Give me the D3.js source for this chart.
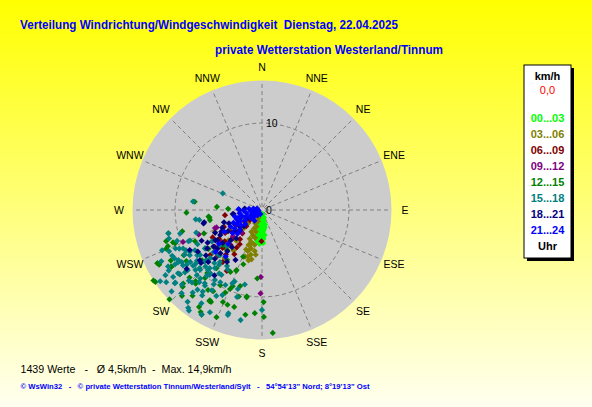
<!DOCTYPE html>
<html>
<head>
<meta charset="utf-8">
<script src="https://cdn.jsdelivr.net/npm/d3@7"></script>
<style>
  html, body { margin: 0; padding: 0; background: #fff; }
  svg { display: block; }
  text { font-family: Arial, "Liberation Sans", sans-serif; }
</style>
</head>
<body>
<div id="chart"></div>
<script>
// Windrichtung (Grad) und Geschwindigkeit (km/h), pro 3-Stunden-Block
const maxSpeed = 14.9;
const ringTicks = [0, 10];
const dirLabels = ["N","NNE","NE","ENE","E","ESE","SE","SSE","S","SSW","SW","WSW","W","WNW","NW","NNW"];
const hourLabels = ["00...03","03...06","06...09","09...12","12...15","15...18","18...21","21...24"];
const hourColors = ["#00ff00","#808000","#800000","#800080","#008000","#008080","#000080","#0000ff"];

const h00_03 = [[182,0.4],[170,0.5],[195,0.6],[175,0.7],[188,0.8],[165,0.9],[178,1.0],[192,1.1],[185,1.2],[172,1.3],
  [190,1.5],[180,1.6],[168,1.7],[176,1.8],[186,1.9],[182,2.1],[174,2.2],[188,2.3],[180,2.5],[184,2.6],
  [177,2.7],[190,2.8],[182,2.9],[186,3.0],[179,3.1],[188,3.2],[183,3.3],[187,3.4],[185,3.5],[181,3.6],
  [189,3.6],[178,2.0],[184,1.4],[192,3.3],[176,2.4],[191,2.0],[173,1.1],[186,2.7],[180,3.4],[187,1.7],
  [178,3.8],[184,3.9],[174,2.9],[193,2.5],[171,2.0],[177,3.3]];
const h03_06 = [[205,1.0],[200,1.4],[208,1.7],[198,2.0],[203,2.3],[196,2.6],[206,2.8],[200,3.1],[194,3.3],[203,3.6],
  [198,3.9],[192,4.1],[201,4.3],[196,4.6],[190,4.8],[199,5.0],[194,5.3],[197,5.6],[192,5.8],[200,5.7],
  [188,5.2],[195,6.0],[202,4.9],[197,4.0],
  [225,3.0],[232,3.8],[220,4.6],[228,5.2],[235,5.9],[222,6.1],[230,6.6],[218,7.0],[226,2.2],[238,4.4],
  [215,5.7],[245,6.0]];
const h06_09 = [[230,1.8],[236,2.4],[224,2.6],[232,3.1],[240,3.4],[220,3.5],[228,3.9],[234,4.3],[217,4.2],[226,4.8],
  [238,5.0],[222,5.4],[230,5.6],[214,5.2],[236,6.0],[226,6.3],[219,6.6],[232,6.9],[224,7.3],[229,7.9],
  [217,7.5],[212,6.0],[262,4.3],[181,3.6],[210,8.1],[213,4.7],[246,4.8],[241,6.5]];
const h09_12 = [[181,7.7],[181,9.6],[249,5.8],[249,7.8],[248,9.8],[249,5.6],[228,4.5],[232,6.0],[222,3.5]];
const h12_15 = [[175,14.2],[226,14.8],[237,14.9],[243,13.5],[203,13.4],[213,13.3],[189,12.2],[200,11.6],[179,10.6],[190,10.2],
  [184,7.9],[268,8.7],[274,5.2],[263,6.2],[252,11.6],[209,12.1],[223,13.5],[226,12.7],[214,11.1],[220,10.2],
  [203,7.6],[202,5.8],[272,3.9],[242,13.4],[238,12.3],[219,12.7],[210,13.9],[227,11.4],[223,11.2],[240,10.4],
  [209,9.9],[203,11.5],[196,9.1],[199,6.6],[201,9.4],[204,10.4],[210,12.1],[211,10.9],[250,10.9],[249,11.6],
  [259,6.1],[230,9.0],[236,10.5],[245,8.5],[218,8.5],[232,12.0],[241,12.0],[215,7.0],[248,7.2],[228,6.0],
  [255,9.5],[207,8.0],[234,7.6],[221,9.6],
  [277,7.8],[262,6.1],[256,11.1],[249,10.7],[248,11.9],[243,13.5],[236,14.8],[238,12.3],[227,12.4],[222,11.4],
  [210,12.0],[195,10.3],[190,10.1],[202,9.8],[203,7.5],[221,6.1],[211,13.7],[179,12.3],[196,11.6],[184,11.9]];
const h15_18 = [[293,4.9],[277,8.0],[256,11.1],[237,12.8],[235,14.3],[217,14.1],[210,13.9],[198,12.7],[180,11.5],[197,9.5],
  [201,8.8],[262,7.7],[261,7.3],[254,9.8],[245,10.5],[233,13.8],[238,11.8],[233,12.8],[230,13.1],[216,14.3],
  [239,11.2],[238,9.8],[231,9.8],[220,9.9],[213,10.2],[198,12.5],[196,10.4],[193,8.8],[191,12.9],[216,11.6],
  [207,13.2],[202,9.1],[222,9.0],[222,8.2],[228,8.6],[235,9.1],[240,9.6],[231,10.2],[225,10.6],[219,9.4],
  [214,8.8],[237,11.0],[244,10.1],[226,11.7],[233,12.1],[220,12.4],[217,10.9],[229,7.4],[236,7.9],[242,8.4],
  [247,9.2],[223,7.1],[212,7.6],[239,12.6],[230,13.0],[224,13.3],[215,12.0],[208,11.2],[250,10.4],[232,9.5],
  [226,9.9],[218,8.0],[241,11.5],[227,12.6],[221,11.0],[234,10.7],[246,11.7],[243,13.0],[238,6.8],[230,6.4],
  [224,5.8],[251,8.0],[210,9.6],[205,10.8],[228,14.0],[213,12.8],[236,13.4],[248,12.4],[253,11.2],[219,13.6],
  [231,11.4],[225,9.2],[242,9.9],
  [240,10.3],[234,10.2],[228,10.3],[222,10.6],[218,10.7],[219,9.6],[219,8.6],[219,7.7],[234,8.8],[239,9.0],
  [231,11.0],[235,11.1],[228,8.9],[227,8.1],[214,9.7],[212,8.8],[224,11.6],[232,12.0],[219,11.8],[212,10.9],
  [206,9.6],[238,11.4],[243,11.6],[246,10.9],[236,7.9],[224,7.2],[210,7.9],[247,9.0],[227,9.8],[222,9.3]];
const h18_21 = [[262,3.3],[275,2.0],[245,3.0],[239,5.6],[237,6.4],[235,7.7],[231,9.2],[232,11.0],[208,6.5],[224,6.9],
  [257,6.9],[241,9.5],[229,9.3],[216,9.3],[262,3.4],[270,2.6],[258,6.8],[235,1.5],[240,2.2],[228,2.8],
  [245,3.6],[232,4.0],[238,4.6],[226,5.0],[242,5.3],[230,5.9],[236,6.2],[222,4.4],[248,4.1],[234,3.2],
  [229,6.8],[239,7.3],[224,7.8],[244,6.0],[219,5.5],[233,7.0],[227,3.5],[241,1.8],[250,2.6],[246,5.0],
  [231,8.3],[237,8.8],[252,4.6],[220,6.2],[243,7.8],[226,8.6],[214,7.2]];
const h21_24 = [[260,0.4],[250,0.6],[270,0.8],[240,0.9],[255,1.1],[265,1.3],[245,1.4],[275,1.5],[235,1.6],[258,1.8],
  [248,2.0],[268,2.1],[238,2.3],[253,2.4],[230,2.5],[262,2.6],[243,2.8],[272,2.7],[234,3.0],[250,3.1],
  [240,3.3],[228,3.4],[246,3.6],[236,3.8],[256,3.2],[242,4.1],[232,4.3],[226,3.9],[252,2.9],[280,1.0],
  [285,0.6],[230,1.2],[220,0.8],[200,0.5],[215,1.5],[225,5.5],[232,6.3],[218,6.8],[240,5.0],[228,7.2]];
const groups = [h00_03, h03_06, h06_09, h09_12, h12_15, h15_18, h18_21, h21_24];

const width = 592, height = 407;
const cx = 262, cy = 210, R = 129.5;

const svg = d3.select("#chart").append("svg")
  .attr("width", width)
  .attr("height", height);

// Hintergrund-Verlauf gelb -> hell
const grad = svg.append("defs").append("linearGradient")
  .attr("id", "bg").attr("x1", 0).attr("y1", 0).attr("x2", 0).attr("y2", 1);
grad.append("stop").attr("offset", "0%").attr("stop-color", "#ffff00");
grad.append("stop").attr("offset", "100%").attr("stop-color", "#fffff0");
svg.append("rect").attr("width", width).attr("height", height).attr("fill", "url(#bg)");

// Titel
svg.append("text")
  .attr("x", 20).attr("y", 29)
  .attr("fill", "#0000ff").attr("font-size", 12).attr("font-weight", "bold")
  .attr("textLength", 378).attr("lengthAdjust", "spacingAndGlyphs")
  .style("white-space", "pre")
  .text("Verteilung Windrichtung/Windgeschwindigkeit  Dienstag, 22.04.2025");
svg.append("text")
  .attr("x", 215).attr("y", 53.5)
  .attr("fill", "#0000ff").attr("font-size", 12).attr("font-weight", "bold")
  .attr("textLength", 228).attr("lengthAdjust", "spacingAndGlyphs")
  .text("private Wetterstation Westerland/Tinnum");

const r = d3.scaleLinear().domain([0, maxSpeed]).range([0, R]);
const ang = d3.scaleLinear().domain([0, 360]).range([0, 2 * Math.PI]);

const g = svg.append("g").attr("transform", `translate(${cx},${cy})`);

g.append("circle").attr("r", R).attr("fill", "#cccccc");

// Speichen
const dirs = dirLabels.map((d, i) => i * 22.5);
g.append("g")
  .selectAll("line")
  .data(dirs)
  .join("line")
  .attr("x1", d => d3.pointRadial(ang(d), 3)[0])
  .attr("y1", d => d3.pointRadial(ang(d), 3)[1])
  .attr("x2", d => d3.pointRadial(ang(d), R - 2)[0])
  .attr("y2", d => d3.pointRadial(ang(d), R - 2)[1])
  .attr("stroke", "#808080")
  .attr("stroke-dasharray", "4,3");

// Ring(e)
g.append("g")
  .selectAll("circle")
  .data(ringTicks.filter(d => d > 0))
  .join("circle")
  .attr("r", d => r(d))
  .attr("fill", "none")
  .attr("stroke", "#808080")
  .attr("stroke-dasharray", "4,3");

// Richtungsbeschriftung
g.append("g")
  .selectAll("text")
  .data(dirLabels)
  .join("text")
  .attr("x", (d, i) => d3.pointRadial(ang(i * 22.5), 143)[0])
  .attr("y", (d, i) => d3.pointRadial(ang(i * 22.5), 143)[1])
  .attr("text-anchor", "middle")
  .attr("dy", "0.35em")
  .attr("font-size", 10.5)
  .attr("fill", "#000")
  .text(d => d);

// Messpunkte
const diamond = d3.symbol().type(d3.symbolSquare).size(19);
groups.forEach((pts, i) => {
  g.append("g")
    .selectAll("path")
    .data(pts)
    .join("path")
    .attr("d", diamond)
    .attr("fill", hourColors[i])
    .attr("transform", d => {
      const [x, y] = d3.pointRadial(ang(d[0]), r(d[1]));
      return `translate(${x},${y}) rotate(45)`;
    });
});

// Ringbeschriftung
g.append("g")
  .selectAll("text")
  .data(ringTicks)
  .join("text")
  .attr("x", 4)
  .attr("y", d => -r(d))
  .attr("dy", "0.35em")
  .attr("font-size", 10.5)
  .attr("fill", "#000")
  .text(d => d);

// Legende
const lx = 524, ly = 65, lw = 47, lh = 193;
svg.append("rect").attr("x", lx + 3).attr("y", ly + 3).attr("width", lw).attr("height", lh).attr("fill", "#000");
svg.append("rect").attr("x", lx).attr("y", ly).attr("width", lw).attr("height", lh)
  .attr("fill", "#fff").attr("stroke", "#000");
const lcx = lx + lw / 2;
svg.append("text").attr("x", lcx).attr("y", 79.5).attr("text-anchor", "middle")
  .attr("font-size", 11).attr("font-weight", "bold").text("km/h");
svg.append("text").attr("x", lcx).attr("y", 93.5).attr("text-anchor", "middle")
  .attr("font-size", 11).attr("fill", "#ff0000").text("0,0");
svg.append("g")
  .selectAll("text")
  .data(hourLabels)
  .join("text")
  .attr("x", lcx)
  .attr("y", (d, i) => 121.6 + i * 16.05)
  .attr("text-anchor", "middle")
  .attr("font-size", 11).attr("font-weight", "bold")
  .attr("fill", (d, i) => hourColors[i])
  .text(d => d);
svg.append("text").attr("x", lcx).attr("y", 250).attr("text-anchor", "middle")
  .attr("font-size", 11).attr("font-weight", "bold").text("Uhr");

// Fusszeilen
svg.append("text")
  .attr("x", 20.5).attr("y", 373)
  .attr("font-size", 11.5).attr("fill", "#000")
  .attr("textLength", 211).attr("lengthAdjust", "spacingAndGlyphs")
  .style("white-space", "pre")
  .text("1439 Werte   -   Ø 4,5km/h  -  Max. 14,9km/h");
svg.append("text")
  .attr("x", 20.5).attr("y", 389)
  .attr("font-size", 8).attr("font-weight", "bold").attr("fill", "#0000ff")
  .attr("textLength", 349).attr("lengthAdjust", "spacingAndGlyphs")
  .style("white-space", "pre")
  .text("© WsWin32   -   © private Wetterstation Tinnum/Westerland/Sylt   -   54°54'13\" Nord; 8°19'13\" Ost");
</script>
</body>
</html>
